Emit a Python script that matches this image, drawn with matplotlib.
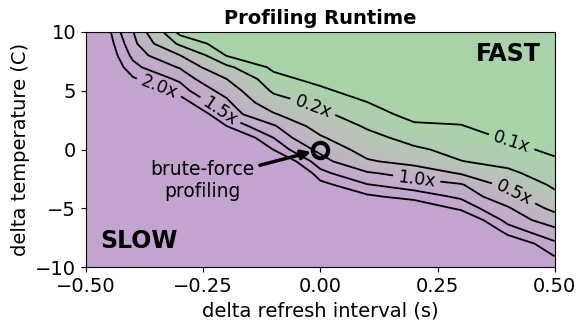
import numpy as np
import matplotlib
matplotlib.use("Agg")
import matplotlib.pyplot as plt
from matplotlib.colors import LinearSegmentedColormap

# grid axes of the profiling sweep
refresh_interval = [-0.5, -0.4, -0.3, -0.2, -0.1, 0.0, 0.1, 0.2, 0.3, 0.4, 0.5]
temperature = list(range(-10, 11))

# runtime relative to brute-force profiling, one row per temperature (-10 .. 10)
runtime_ratio = [
    [4.23, 7.08, 7.08, 7.08, 7.08, 7.08, 7.08, 7.08, 7.08, 6.75, 2.96],
    [4.23, 7.08, 7.08, 7.08, 7.08, 7.08, 7.08, 7.08, 7.08, 4.26, 1.941],
    [4.23, 7.08, 7.08, 7.08, 7.08, 7.08, 7.08, 7.08, 7.08, 2.69, 1.592],
    [4.23, 7.08, 7.08, 7.08, 7.08, 7.08, 7.08, 6.68, 4.52, 1.789, 1.200],
    [4.23, 7.08, 7.08, 7.08, 7.08, 7.08, 5.33, 4.22, 2.85, 1.354, 0.749],
    [4.23, 7.08, 7.08, 7.08, 7.08, 5.58, 3.37, 2.66, 1.874, 1.069, 0.407],
    [4.23, 7.08, 7.08, 7.08, 7.08, 3.52, 2.12, 1.778, 1.413, 0.675, 0.2432],
    [4.23, 7.08, 7.08, 7.08, 7.08, 2.22, 1.528, 1.287, 1.067, 0.393, 0.1745],
    [4.23, 7.08, 7.08, 7.08, 4.93, 1.655, 1.064, 0.791, 0.464, 0.2298, 0.140],
    [4.23, 7.08, 7.08, 7.08, 3.11, 1.244, 0.542, 0.384, 0.2033, 0.1636, 0.1123],
    [4.23, 7.08, 7.08, 5.02, 1.978, 0.871, 0.363, 0.224, 0.1612, 0.1246, 0.085],
    [4.23, 7.08, 7.08, 3.17, 1.500, 0.548, 0.2535, 0.1546, 0.1293, 0.0937, 0.0602],
    [4.23, 7.08, 5.98, 2.00, 1.070, 0.356, 0.1811, 0.1117, 0.1038, 0.0663, 0.0426],
    [4.23, 7.08, 3.78, 1.383, 0.540, 0.233, 0.1353, 0.0796, 0.0751, 0.0469, 0.0316],
    [4.23, 5.24, 2.38, 1.129, 0.2926, 0.1609, 0.1012, 0.0564, 0.0531, 0.0332, 0.0316],
    [4.23, 3.30, 1.769, 0.820, 0.176, 0.1146, 0.0718, 0.0399, 0.0376, 0.0316, 0.0316],
    [4.23, 2.08, 1.409, 0.500, 0.1236, 0.0813, 0.0508, 0.0316, 0.0316, 0.0316, 0.0316],
    [4.23, 1.661, 0.963, 0.233, 0.0871, 0.0575, 0.0360, 0.0316, 0.0316, 0.0316, 0.0316],
    [4.23, 1.391, 0.513, 0.0966, 0.0617, 0.0407, 0.0316, 0.0316, 0.0316, 0.0316, 0.0316],
    [4.23, 1.197, 0.1722, 0.0684, 0.0437, 0.0316, 0.0316, 0.0316, 0.0316, 0.0316, 0.0316],
    [4.23, 1.030, 0.0813, 0.0484, 0.0316, 0.0316, 0.0316, 0.0316, 0.0316, 0.0316, 0.0316],
]

contour_levels = [0.1, 0.2, 0.5, 1.0, 1.5, 2.0]
# where each inline label sits (refresh interval, temperature)
label_spots = [(0.409, 0.8), (-0.018, 3.45), (0.411, -3.8),
               (0.206, -2.2), (-0.218, 3.1), (-0.345, 5.2)]

FAST_COLOR = "#a8d3a9"
MID_COLOR = "#bcbdbc"
SLOW_COLOR = "#c3a4cf"


def draw(out_path: str) -> None:
    """Draw the filled runtime contour map with labelled iso-lines."""
    X, Y = np.meshgrid(refresh_interval, temperature)
    log_ratio = np.log10(np.array(runtime_ratio))
    log_levels = np.log10(contour_levels)

    fig = plt.figure(figsize=(5.81, 3.29), dpi=100)
    ax = fig.add_axes([0.148, 0.188, 0.807, 0.715])

    cmap = LinearSegmentedColormap.from_list(
        "fast_slow", [FAST_COLOR, MID_COLOR, SLOW_COLOR])
    fill_levels = np.linspace(log_levels[0], log_levels[-1], 60)
    ax.contourf(X, Y, log_ratio, levels=fill_levels, cmap=cmap, extend="both")

    cs = ax.contour(X, Y, log_ratio, levels=log_levels, colors="k",
                    linewidths=1.3, linestyles="solid",
                    negative_linestyles="solid")
    fmt = {lv: f"{r:.1f}x" for lv, r in zip(cs.levels, contour_levels)}
    ax.clabel(cs, fmt=fmt, manual=label_spots, fontsize=12.5, inline=True)

    # brute-force profiling point at the origin
    ax.plot([0], [0], marker="o", ms=11, mew=3, mfc="none", mec="k")
    ax.annotate("brute-force\nprofiling", xy=(0, 0), xytext=(-0.252, -2.6),
                ha="center", va="center", fontsize=13.5,
                arrowprops=dict(arrowstyle="-|>", color="k", lw=2.5,
                                mutation_scale=14, shrinkA=2, shrinkB=7))

    ax.text(0.469, 8.1, "FAST", ha="right", va="center", fontsize=17, fontweight="bold")
    ax.text(-0.47, -7.8, "SLOW", ha="left", va="center", fontsize=17, fontweight="bold")

    ax.set_xlim(-0.5, 0.5)
    ax.set_ylim(-10, 10)
    ax.set_xticks([-0.5, -0.25, 0.0, 0.25, 0.5])
    ax.set_yticks([-10, -5, 0, 5, 10])
    ax.tick_params(labelsize=14)
    ax.set_xlabel("delta refresh interval (s)", fontsize=14)
    ax.set_ylabel("delta temperature (C)", fontsize=14)
    ax.set_title("Profiling Runtime", fontsize=14, fontweight="bold")

    fig.savefig(out_path, dpi=100)


if __name__ == "__main__":
    draw("out.png")
